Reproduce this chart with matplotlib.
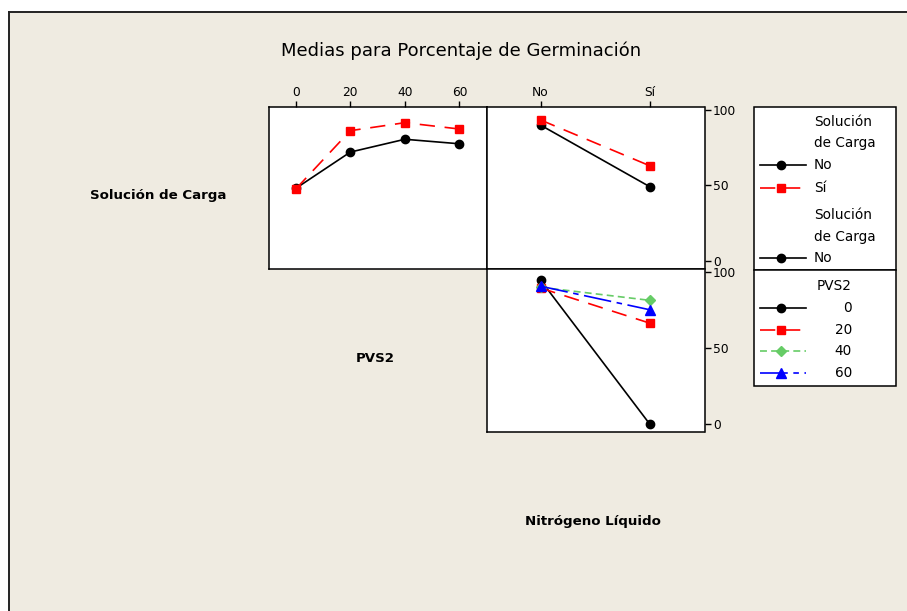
import matplotlib
matplotlib.use("Agg")
import matplotlib.pyplot as plt
from matplotlib.lines import Line2D
from matplotlib.patches import Rectangle

W, H = 907, 611
plt.rcParams['font.family'] = ['DejaVu Sans']
plt.rcParams['lines.scale_dashes'] = False

# ---- data -------------------------------------------------------------
pvs2_levels = [0, 20, 40, 60]
nitro_levels = ["No", "Sí"]
carga_levels = ["No", "Sí"]
pvs2_labels = ["0", "20", "40", "60"]

# Solución de Carga (lines) across PVS2 (x)
carga_by_pvs2 = {
    "No": [48.0, 72.1, 80.6, 77.6],
    "Sí": [47.6, 86.3, 91.6, 87.4],
}
# Solución de Carga (lines) across Nitrógeno Líquido (x)
carga_by_nitro = {
    "No": [90.0, 49.1],
    "Sí": [93.4, 63.0],
}
# PVS2 (lines) across Nitrógeno Líquido (x)
pvs2_by_nitro = {
    "0": [94.7, 0.0],
    "20": [89.5, 66.4],
    "40": [90.0, 81.4],
    "60": [90.7, 75.2],
}
y_ticks = [0, 50, 100]

# ---- styles -----------------------------------------------------------
STY = {
    "black": dict(color="black", ls="-", marker="o", ms=6, lw=1.2),
    "red": dict(color="#FF0000", ls=(0, (11, 7)), marker="s", ms=6, lw=1.2),
    "green": dict(color="#66CC66", ls=(0, (5, 3)), marker="D", ms=5.5, lw=1.2),
    "blue": dict(color="#0000FF", ls=(0, (20, 4, 4, 4)), marker="^", ms=7, lw=1.2),
}
carga_style = {"No": STY["black"], "Sí": STY["red"]}
pvs2_style = {"0": STY["black"], "20": STY["red"], "40": STY["green"], "60": STY["blue"]}

BG = "#EFEBE1"
fig = plt.figure(figsize=(W / 100, H / 100), dpi=100, facecolor="white")

# beige backdrop with top/left border
fig.patches.append(Rectangle((8.5 / W, 0), 1, 1 - 12.5 / H, transform=fig.transFigure,
                             facecolor=BG, edgecolor="none", zorder=-10))
fig.add_artist(Line2D([8.5 / W, 1], [1 - 12.3 / H] * 2, transform=fig.transFigure,
                      color="#222222", lw=1.4))
fig.add_artist(Line2D([8.5 / W] * 2, [0, 1 - 12.3 / H], transform=fig.transFigure,
                      color="#222222", lw=1.4))


def px_axes(x0, y0, x1, y1):
    return fig.add_axes([x0 / W, 1 - y1 / H, (x1 - x0) / W, (y1 - y0) / H])


def style_panel(ax):
    ax.set_facecolor("white")
    for s in ax.spines.values():
        s.set_linewidth(1.1)
        s.set_color("black")
    ax.set_ylim(-5.1, 101.8)
    ax.tick_params(direction="out", length=4, width=1, labelsize=8.8, pad=2, colors="black")


# panel 1: Solución de Carga vs PVS2
ax1 = px_axes(269, 107.3, 487, 268.5)
style_panel(ax1)
for lvl in carga_levels:
    ax1.plot(pvs2_levels, carga_by_pvs2[lvl], **carga_style[lvl], zorder=3 if lvl == "Sí" else 2)
ax1.set_xlim(-9.8, 70.1)
ax1.xaxis.tick_top()
ax1.set_xticks(pvs2_levels)
ax1.set_xticklabels(pvs2_labels)
ax1.set_yticks([])

# panel 2: Solución de Carga vs Nitrógeno Líquido
ax2 = px_axes(487, 107.3, 704.5, 268.5)
style_panel(ax2)
xs = list(range(len(nitro_levels)))
for lvl in carga_levels:
    ax2.plot(xs, carga_by_nitro[lvl], **carga_style[lvl], zorder=3 if lvl == "Sí" else 2)
ax2.set_xlim(-0.49, 1.5)
ax2.xaxis.tick_top()
ax2.set_xticks(xs)
ax2.set_xticklabels(nitro_levels)
ax2.yaxis.tick_right()
ax2.set_yticks(y_ticks)

# panel 3: PVS2 vs Nitrógeno Líquido
ax3 = px_axes(487, 269.3, 704.5, 432)
style_panel(ax3)
for i, lvl in enumerate(pvs2_labels):
    ax3.plot(xs, pvs2_by_nitro[lvl], **pvs2_style[lvl], zorder=2 + i)
ax3.set_xlim(-0.49, 1.5)
ax3.set_xticks([])
ax3.yaxis.tick_right()
ax3.set_yticks(y_ticks)

# overlay in pixel coordinates for titles, labels and legend
ov = fig.add_axes([0, 0, 1, 1], zorder=5)
ov.set_xlim(0, W)
ov.set_ylim(H, 0)
ov.axis("off")
ov.patch.set_alpha(0)

ov.text(461, 51, "Medias para Porcentaje de Germinación", ha="center", va="center", fontsize=13)
ov.text(158, 196, "Solución de Carga", ha="center", va="center", fontsize=9.6, fontweight="bold")
ov.text(375, 359, "PVS2", ha="center", va="center", fontsize=9.6, fontweight="bold")
ov.text(593, 522, "Nitrógeno Líquido", ha="center", va="center", fontsize=9.6, fontweight="bold")

# legend boxes
ov.add_patch(Rectangle((753.5, 106.7), 142.2, 163.3, facecolor="white", edgecolor="black", lw=1.1))
ov.add_patch(Rectangle((753.5, 270.0), 142.2, 116.0, facecolor="white", edgecolor="black", lw=1.1))

LFS = 9.8


def sample(y, sty):
    s = dict(sty)
    ov.plot([760, 806], [y, y], color=s["color"], ls=s["ls"], lw=s["lw"])
    ov.plot([781], [y], color=s["color"], marker=s["marker"], ms=s["ms"], ls="none")


tx = 814
ov.text(tx, 121.7, "Solución", va="center", fontsize=LFS)
ov.text(tx, 143.3, "de Carga", va="center", fontsize=LFS)
for y, lvl in [(165, "No"), (187.7, "Sí")]:
    sample(y, carga_style[lvl])
    ov.text(tx, y, lvl, va="center", fontsize=LFS)
ov.text(tx, 215, "Solución", va="center", fontsize=LFS)
ov.text(tx, 237, "de Carga", va="center", fontsize=LFS)
sample(258.3, carga_style["No"])
ov.text(tx, 258.3, "No", va="center", fontsize=LFS)

ov.text(834, 286, "PVS2", ha="center", va="center", fontsize=LFS)
for y, lvl in zip([307.7, 329.7, 351, 373], pvs2_labels):
    sample(y, pvs2_style[lvl])
    ov.text(852, y, lvl, ha="right", va="center", fontsize=LFS)

fig.savefig("out.png", dpi=100, facecolor="white")
